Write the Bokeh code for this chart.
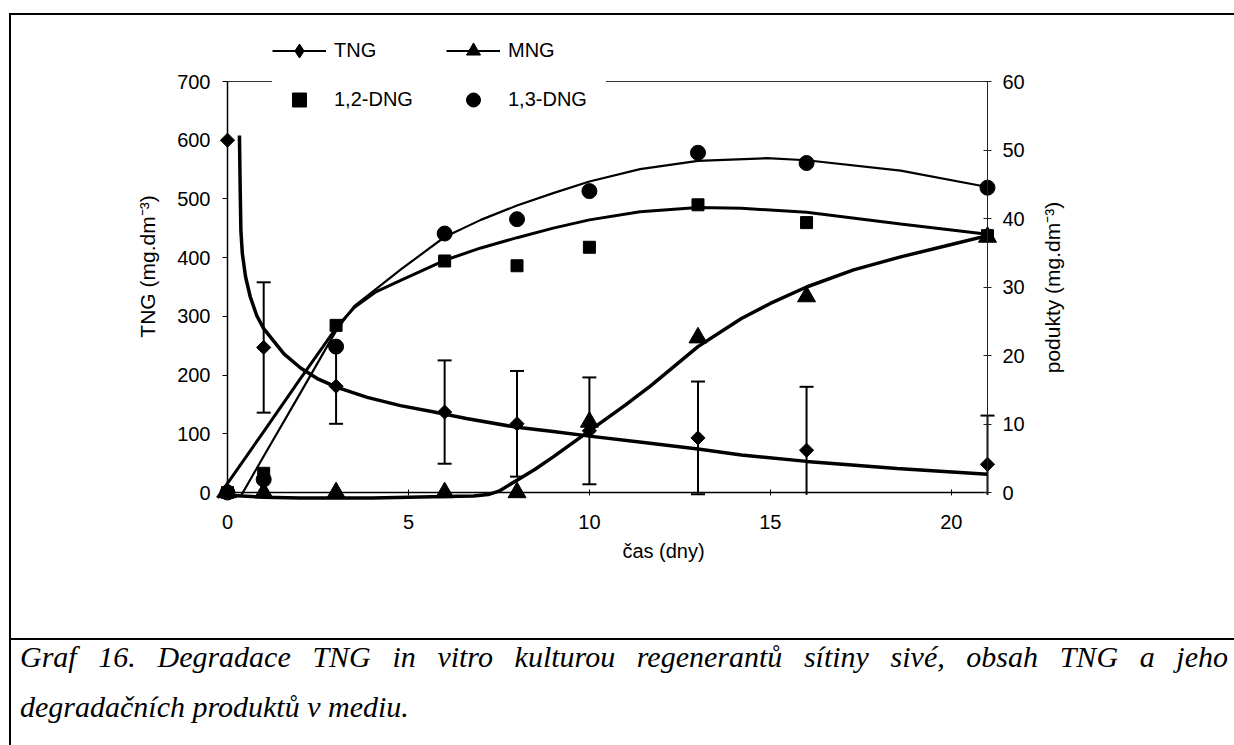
import numpy as np
from bokeh.plotting import figure
from bokeh.models import Range1d, LinearAxis, FixedTicker, Legend, LegendItem, Div
from bokeh.layouts import column, row
from bokeh.core.properties import value
from bokeh.embed import file_html
from bokeh.resources import INLINE

# ------------------------------------------------------------------ data
days = [0, 1, 3, 6, 8, 10, 13, 16, 21]
tng = [600, 247, 181, 137, 117, 105, 93, 72, 48]
tng_err = [0, 111, 64, 88, 90, 91, 96, 108, 83]
mng = [0, 0, 0, 0, 0, 10.3, 22.6, 28.6, 37.3]
dng12 = [0, 2.8, 24.4, 33.8, 33.1, 35.8, 42.0, 39.4, 37.5]
dng13 = [0, 1.9, 21.3, 37.8, 39.9, 44.0, 49.6, 48.1, 44.5]

# fitted curves
tng_fit_x = [0.33, 0.35, 0.37, 0.41, 0.50, 0.63, 0.81, 1.0, 1.56, 2.02, 2.48, 3.03, 3.86,
             4.78, 5.71, 6.6, 8.0, 9.0, 10.0, 11.5, 13.0, 14.2, 16.0, 18.5, 21.0]
tng_fit_y = [608, 520, 446, 407, 367, 333, 301, 279, 236, 212, 194, 179, 162,
             148, 137, 126, 111, 104, 96, 85, 74, 64, 53, 41, 31]
mng_fit_x = [0.0, 1.0, 2.0, 3.0, 4.0, 5.0, 6.0, 6.8, 7.2, 7.5, 8.0, 8.5, 9.0, 10.0,
             11.0, 11.7, 13.0, 14.2, 15.0, 16.0, 17.3, 18.6, 20.0, 21.0]
mng_fit_y = [-0.4, -0.7, -0.8, -0.8, -0.8, -0.7, -0.6, -0.5, -0.3, 0.2, 1.8, 3.4, 5.2, 9.0,
             12.8, 15.6, 21.3, 25.4, 27.6, 30.0, 32.5, 34.4, 36.2, 37.5]
dng12_fit_x = [-0.28, 1.0, 2.0, 3.0, 3.5, 4.1, 4.8, 6.0, 7.0, 8.0, 9.0, 10.0, 11.4,
               13.0, 14.2, 16.0, 18.6, 21.0]
dng12_fit_y = [-0.8, 8.9, 16.5, 24.0, 27.0, 29.3, 31.0, 33.9, 35.7, 37.2, 38.6, 39.8, 41.0,
               41.6, 41.5, 40.9, 39.2, 37.7]
dng13_fit_x = [0.36, 1.0, 2.0, 3.0, 3.5, 4.1, 4.8, 6.0, 7.0, 8.0, 9.0, 10.0, 11.4,
               13.0, 14.9, 16.0, 18.6, 21.0]
dng13_fit_y = [-0.6, 5.3, 14.4, 23.6, 27.2, 29.7, 32.6, 37.3, 39.8, 41.9, 43.7, 45.4, 47.2,
               48.4, 48.8, 48.5, 47.0, 44.6]

x_ticks = [0, 5, 10, 15, 20]
left_ticks = [0, 100, 200, 300, 400, 500, 600, 700]
right_ticks = [0, 10, 20, 30, 40, 50, 60]
x_title = "čas (dny)"
left_title = "TNG (mg.dm⁻³)"
right_title = "podukty (mg.dm⁻³)"
legend_labels = ["TNG", "MNG", "1,2-DNG", "1,3-DNG"]
caption_line1 = "Graf 16. Degradace TNG in vitro kulturou regenerantů sítiny sivé, obsah TNG a jeho"
caption_line2 = "degradačních produktů v mediu."

# ------------------------------------------------------------------ geometry (page pixels)
X_END = days[-1]
Y_TOP_L = left_ticks[-1]
Y_TOP_R = right_ticks[-1]
PX_X0, PX_XE = 227, 987        # page x of day 0 and day 21
PX_Y0, PX_YT = 492, 81         # page y of value 0 and axis top
ppd = (PX_XE - PX_X0) / X_END
ppl = (PX_Y0 - PX_YT) / Y_TOP_L
ppr = (PX_Y0 - PX_YT) / Y_TOP_R

PAGE_W, PAGE_H = 1234, 745
BORDER_X, BORDER_Y, BW = 9, 13, 2          # outer frame lines
ORG_X, ORG_Y = BORDER_X + BW, BORDER_Y + BW  # chart canvas origin on the page
CW = PAGE_W - ORG_X
SEP_Y = 638                                 # caption separator line
CH = SEP_Y - ORG_Y
CAP_TOP = SEP_Y + BW
CAP_H = PAGE_H - CAP_TOP
MB_L, MB_R, MB_T, MB_B = 80, 70, 0, 70
F_LEFT, F_RIGHT = ORG_X + MB_L, ORG_X + CW - MB_R
F_TOP, F_BOTTOM = ORG_Y + MB_T, ORG_Y + CH - MB_B


def dx(px):
    return (px - PX_X0) / ppd


def dyl(py):
    return (PX_Y0 - py) / ppl


def dyr(py):
    return (PX_Y0 - py) / ppr


SANS = "Liberation Sans"
BLACK = "black"
TICK_FS = "20px"

p = figure(width=CW, height=CH, output_backend="svg", toolbar_location=None,
           x_range=Range1d(dx(F_LEFT), dx(F_RIGHT)),
           y_range=Range1d(dyl(F_BOTTOM), dyl(F_TOP)),
           min_border_left=MB_L, min_border_right=MB_R,
           min_border_top=MB_T, min_border_bottom=MB_B)
p.extra_y_ranges = {"r": Range1d(dyr(F_BOTTOM), dyr(F_TOP))}
p.grid.visible = False
p.outline_line_color = None
p.background_fill_color = "white"
p.border_fill_color = "white"

# x axis
xa = p.xaxis[0]
xa.fixed_location = 0
xa.bounds = (0, X_END)
xa.ticker = FixedTicker(ticks=x_ticks)
xa.major_tick_in = 3
xa.major_tick_out = 3
xa.minor_tick_in = 0
xa.minor_tick_out = 0
xa.major_label_standoff = 19
xa.axis_line_width = 1.5
xa.axis_line_color = BLACK
xa.major_tick_line_color = BLACK
xa.major_label_text_font = SANS
xa.major_label_text_font_size = TICK_FS
xa.major_label_text_color = BLACK

# left axis
ya = p.yaxis[0]
ya.fixed_location = 0
ya.bounds = (0, Y_TOP_L)
ya.ticker = FixedTicker(ticks=left_ticks)
ya.major_tick_in = 0
ya.major_tick_out = 5
ya.minor_tick_in = 0
ya.minor_tick_out = 0
ya.major_label_standoff = 12
ya.axis_line_width = 1.5
ya.axis_line_color = BLACK
ya.major_tick_line_color = BLACK
ya.major_label_text_font = SANS
ya.major_label_text_font_size = TICK_FS
ya.major_label_text_color = BLACK

# right axis
ra = LinearAxis(y_range_name="r", fixed_location=X_END, bounds=(0, Y_TOP_R),
                ticker=FixedTicker(ticks=right_ticks),
                major_tick_in=4, major_tick_out=4, minor_tick_in=0, minor_tick_out=0,
                major_label_standoff=11, axis_line_width=1, axis_line_color="#222222",
                major_tick_line_color="#222222", major_label_text_font=SANS,
                major_label_text_font_size=TICK_FS, major_label_text_color=BLACK)
p.add_layout(ra, "right")

# top border of the plot area
p.segment(x0=[0], y0=[Y_TOP_L], x1=[X_END], y1=[Y_TOP_L], line_color="#333333", line_width=1)

# axis titles
p.text(x=[dx(147)], y=[dyl(266)], text=[left_title], angle=np.pi / 2,
       text_align="center", text_baseline="middle", text_font=value(SANS),
       text_font_size="21px", text_color=BLACK)
p.text(x=[dx(1052)], y=[dyl(287)], text=[right_title], angle=np.pi / 2,
       text_align="center", text_baseline="middle", text_font=value(SANS),
       text_font_size="21px", text_color=BLACK)
p.text(x=[dx(663)], y=[dyl(550)], text=[x_title],
       text_align="center", text_baseline="middle", text_font=value(SANS),
       text_font_size="20px", text_color=BLACK)

# fitted curves
p.line(dng13_fit_x, dng13_fit_y, y_range_name="r", line_color=BLACK, line_width=2.2)
p.line(dng12_fit_x, dng12_fit_y, y_range_name="r", line_color=BLACK, line_width=3)
p.line(mng_fit_x, mng_fit_y, y_range_name="r", line_color=BLACK, line_width=3.5)
p.line(tng_fit_x, tng_fit_y, line_color=BLACK, line_width=3.5)

# error bars of TNG
d = np.array(days, dtype=float)
t = np.array(tng, dtype=float)
e = np.array(tng_err, dtype=float)
has = e > 0
hi = t + e
lo = t - e
lo_draw = np.maximum(lo, -4)
p.segment(x0=d[has], y0=lo_draw[has], x1=d[has], y1=hi[has], line_color=BLACK, line_width=2)
p.scatter(x=d[has], y=hi[has], marker="dash", size=14, line_color=BLACK, line_width=2)
cap_lo = has & (lo >= -4)
p.scatter(x=d[cap_lo], y=lo[cap_lo], marker="dash", size=14, line_color=BLACK, line_width=2)

# markers
s12 = p.scatter(days, dng12, y_range_name="r", marker="square", size=12,
                fill_color=BLACK, line_color=BLACK)
s13 = p.scatter(days, dng13, y_range_name="r", marker="circle", size=15,
                fill_color=BLACK, line_color=BLACK)
smng = p.scatter(days, mng, y_range_name="r", marker="triangle", size=18,
                 fill_color=BLACK, line_color=BLACK)
stng = p.scatter(days, tng, marker="square", angle=np.pi / 4, size=10,
                 fill_color=BLACK, line_color=BLACK)

# legend-only samples (a single NaN point: nothing is drawn in the plot)
nan = [float("nan")]
lt = p.line(x=nan, y=nan, line_color=BLACK, line_width=2)
lm = p.line(x=nan, y=nan, line_color=BLACK, line_width=2)
ld = p.scatter(x=nan, y=nan, marker="diamond", fill_color=BLACK, line_color=BLACK)

GH = 35
LEG_PAD = 6
LEG_ROW1 = 48
leg_top = LEG_ROW1 - GH / 2 - LEG_PAD
leg_bottom = leg_top + 2 * GH + 14 + 2 * LEG_PAD
legend = Legend(items=[LegendItem(label=legend_labels[0], renderers=[lt, ld]),
                       LegendItem(label=legend_labels[1], renderers=[lm, smng]),
                       LegendItem(label=legend_labels[2], renderers=[s12]),
                       LegendItem(label=legend_labels[3], renderers=[s13])],
                orientation="horizontal", nrows=2,
                location=(267 + 5 - F_LEFT, F_BOTTOM - leg_bottom + 4),
                glyph_width=54, glyph_height=GH, label_height=GH, label_width=98,
                label_standoff=8, spacing=14, padding=LEG_PAD, margin=0,
                background_fill_color="white", background_fill_alpha=1,
                border_line_color=None, label_text_font=SANS,
                label_text_font_size="20px", label_text_color=BLACK)
p.add_layout(legend)

# ------------------------------------------------------------------ caption (justified text)
CAP_FS = 30
CAP_L, CAP_R = 20, 1228
BASE1, BASE2 = 667, 717
ASC = 0.891 * CAP_FS              # Liberation Serif ascent
DESC = 0.216 * CAP_FS
base_off = (CAP_FS - (ASC + DESC)) / 2 + ASC   # baseline offset inside a line box
top1 = BASE1 - base_off - CAP_TOP
top2 = BASE2 - base_off - CAP_TOP
cap_html = (
    f'<div style="position:relative;width:{CW}px;height:{CAP_H}px;'
    f"font-family:'Liberation Serif',serif;font-style:italic;font-size:{CAP_FS}px;"
    f'line-height:{CAP_FS}px;color:#000;overflow:hidden;">'
    f'<div style="position:absolute;left:{CAP_L - ORG_X}px;top:{top1:.1f}px;'
    f'width:{CAP_R - CAP_L}px;text-align:justify;text-align-last:justify;">'
    f'{caption_line1}</div>'
    f'<div style="position:absolute;left:{CAP_L - ORG_X}px;top:{top2:.1f}px;'
    f'white-space:nowrap;">{caption_line2}</div></div>'
)
cap_div = Div(text=cap_html, width=CW, height=CAP_H, margin=0)


# ------------------------------------------------------------------ outer frame (divs)
def block(w, h, color=None):
    styles = {"background-color": color} if color else {}
    return Div(text="", width=w, height=h, margin=0, styles=styles)


layout = column(
    block(PAGE_W, BORDER_Y),
    row(block(BORDER_X, PAGE_H - BORDER_Y),
        column(block(PAGE_W - BORDER_X, BW, BLACK),
               row(block(BW, PAGE_H - ORG_Y, BLACK),
                   column(p, block(CW, BW, BLACK), cap_div, spacing=0), spacing=0),
               spacing=0),
        spacing=0),
    spacing=0)

open("out.html", "w").write(file_html(layout, INLINE))
